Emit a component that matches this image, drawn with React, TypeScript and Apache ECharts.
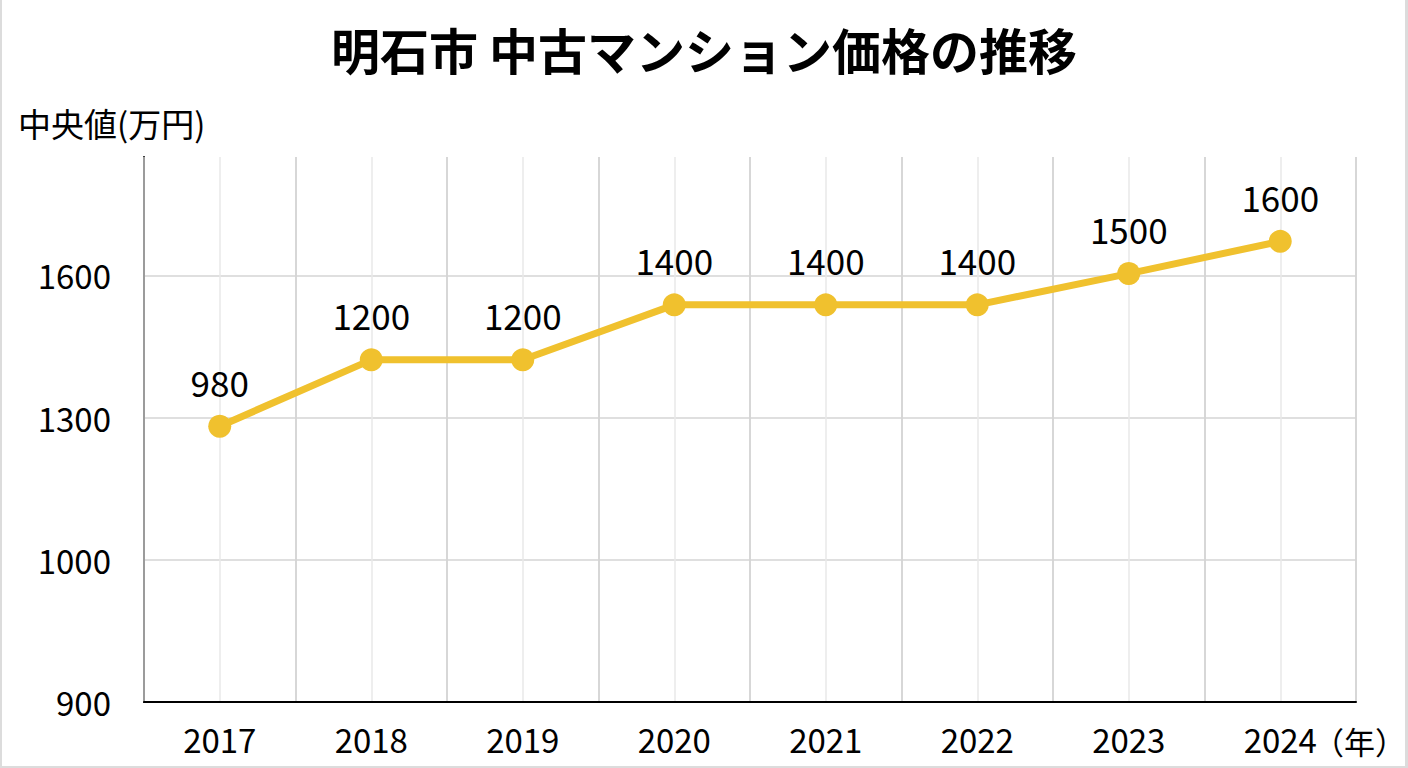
import React, {FunctionComponent, useRef, useEffect} from 'react';
import * as echarts from 'echarts';

// categories
const years = ['2017', '2018', '2019', '2020', '2021', '2022', '2023', '2024'];
// values as printed above each point (万円)
const medianLabels = [980, 1200, 1200, 1400, 1400, 1400, 1500, 1600];
// where each point sits on the axis scale
const plottedValues = [1282, 1422, 1422, 1538, 1538, 1538, 1604, 1672];
// y axis ticks and the text printed next to them
const yTickValues = [700, 1000, 1300, 1600];
const yTickLabels = ['900', '1000', '1300', '1600'];

const FONT = '"Noto Sans CJK JP", "Noto Sans", sans-serif';
const LINE_COLOR = '#F0C12E';

const App: FunctionComponent = () => {
    const ref = useRef<HTMLDivElement | null>(null);

    useEffect(() => {
        const chart = echarts.init(ref.current as HTMLDivElement, undefined, {renderer: 'svg'});
        chart.setOption({
            animation: false,
            backgroundColor: '#ffffff',
            textStyle: {fontFamily: FONT, color: '#000'},
            title: [
                {
                    text: '明石市 中古マンション価格の推移',
                    left: 'center',
                    top: 24,
                    padding: 0,
                    textStyle: {fontFamily: FONT, fontSize: 49, fontWeight: 'bold', color: '#000'}
                },
                {
                    text: '中央値(万円)',
                    left: 18,
                    top: 106,
                    padding: 0,
                    textStyle: {fontFamily: FONT, fontSize: 33, fontWeight: 'normal', color: '#000'}
                }
            ],
            grid: {left: 144, right: 52, top: 157, bottom: 66, containLabel: false, outerBoundsMode: 'none'},
            xAxis: [
                {
                    type: 'category',
                    data: years,
                    boundaryGap: true,
                    z: 2,
                    axisLine: {show: true, lineStyle: {color: '#000', width: 2}},
                    axisTick: {show: false},
                    axisLabel: {fontFamily: FONT, fontSize: 33, color: '#000', margin: 20},
                    splitLine: {show: true, lineStyle: {color: '#cfcfcf', width: 1.5}}
                },
                {
                    // half-category grid for the lighter lines through each point
                    type: 'value',
                    min: 0,
                    max: 16,
                    interval: 1,
                    z: 0,
                    axisLine: {show: false},
                    axisTick: {show: false},
                    axisLabel: {show: false},
                    splitLine: {show: true, lineStyle: {color: '#e9e9e9', width: 1.5}}
                }
            ],
            yAxis: {
                type: 'value',
                min: 700,
                max: 1850,
                interval: 300,
                axisLine: {show: true, lineStyle: {color: '#000', width: 2}},
                axisTick: {show: false},
                axisLabel: {
                    fontFamily: FONT,
                    fontSize: 33,
                    color: '#000',
                    margin: 33,
                    showMaxLabel: false,
                    formatter: (v: number) => {
                        const i = yTickValues.indexOf(v);
                        return i >= 0 ? yTickLabels[i] : '';
                    }
                },
                splitLine: {show: true, showMaxLine: false, showMinLine: false, lineStyle: {color: '#d4d4d4', width: 1.5}}
            },
            graphic: [
                {
                    type: 'text',
                    x: 1313,
                    y: 740,
                    style: {text: '（年）', fontFamily: FONT, fontSize: 31, fill: '#000', verticalAlign: 'middle'}
                },
                {type: 'rect', shape: {x: 0, y: 0, width: 2, height: 768}, style: {fill: '#dcdcdc'}},
                {type: 'rect', shape: {x: 1405, y: 0, width: 3, height: 768}, style: {fill: '#dcdcdc'}},
                {type: 'rect', shape: {x: 0, y: 766, width: 1408, height: 2}, style: {fill: '#dcdcdc'}}
            ],
            series: [
                {
                    type: 'line',
                    xAxisIndex: 0,
                    data: plottedValues,
                    symbol: 'circle',
                    symbolSize: 23,
                    z: 5,
                    lineStyle: {color: LINE_COLOR, width: 7},
                    itemStyle: {color: LINE_COLOR},
                    label: {
                        show: true,
                        position: 'top',
                        distance: 16,
                        fontFamily: FONT,
                        fontSize: 35,
                        color: '#000',
                        formatter: (p: {dataIndex: number}) => String(medianLabels[p.dataIndex])
                    }
                }
            ]
        });
        return () => chart.dispose();
    }, []);

    return (
        <div
            ref={ref}
            style={{position: 'fixed', left: 0, top: 0, width: 1408, height: 768, background: '#fff'}}
        ></div>
    );
};

export default App;
